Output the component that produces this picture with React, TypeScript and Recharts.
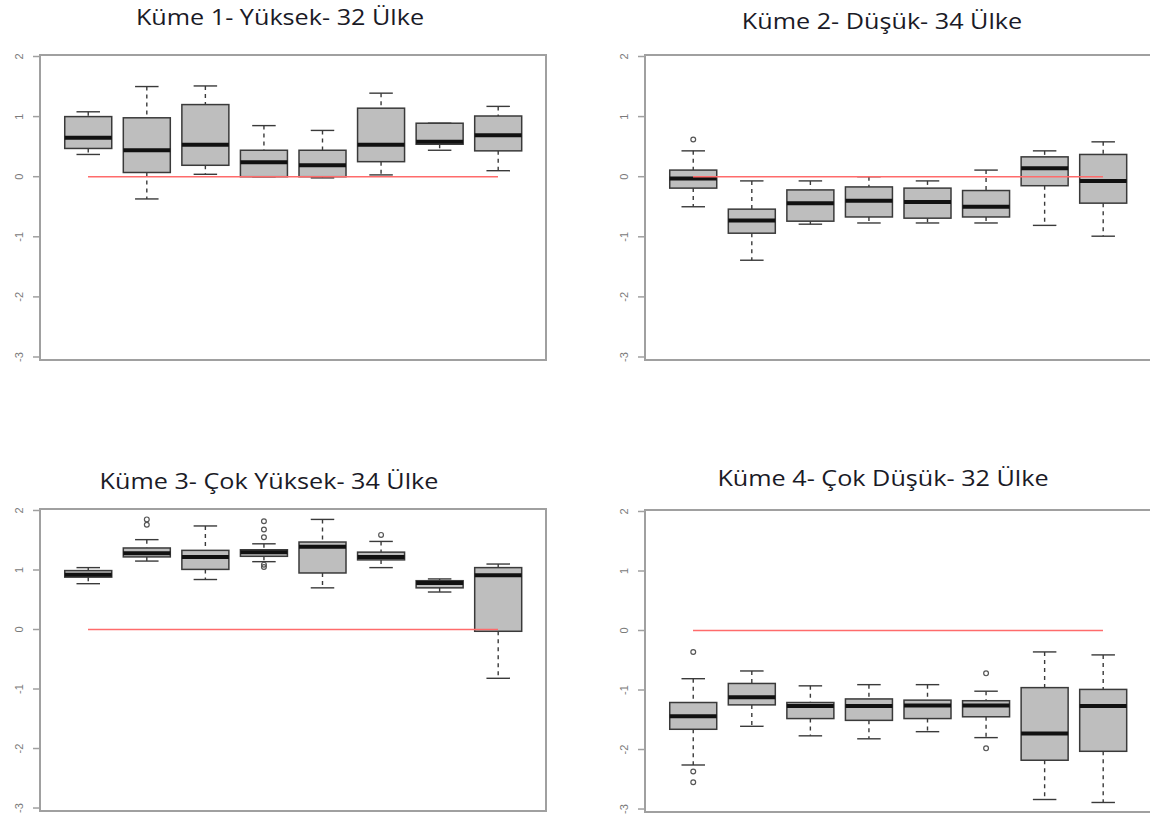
import React from "react";
import { ComposedChart, Bar, XAxis, YAxis, ReferenceLine, ReferenceArea } from "recharts";

// box positions and y ticks shared by all four panels
const positions = [1, 2, 3, 4, 5, 6, 7, 8];
const yTicks = [-3, -2, -1, 0, 1, 2];

const titles = [
  "Küme 1- Yüksek- 32 Ülke",
  "Küme 2- Düşük- 34 Ülke",
  "Küme 3- Çok Yüksek- 34 Ülke",
  "Küme 4- Çok Düşük- 32 Ülke",
];

// each row: [lower whisker, Q1, median, Q3, upper whisker]
const kume1 = [
  [0.37, 0.47, 0.65, 1.0, 1.08],
  [-0.37, 0.07, 0.44, 0.98, 1.5],
  [0.04, 0.19, 0.53, 1.2, 1.51],
  [0.0, 0.0, 0.24, 0.44, 0.85],
  [-0.02, 0.0, 0.19, 0.44, 0.77],
  [0.03, 0.25, 0.53, 1.14, 1.39],
  [0.44, 0.54, 0.58, 0.89, 0.89],
  [0.1, 0.43, 0.69, 1.01, 1.17],
];
const kume1Outliers = [[], [], [], [], [], [], [], []];

const kume2 = [
  [-0.5, -0.19, -0.03, 0.11, 0.43],
  [-1.39, -0.94, -0.73, -0.54, -0.07],
  [-0.79, -0.74, -0.44, -0.22, -0.07],
  [-0.77, -0.67, -0.4, -0.17, 0.0],
  [-0.77, -0.69, -0.42, -0.19, -0.07],
  [-0.77, -0.67, -0.5, -0.23, 0.11],
  [-0.81, -0.15, 0.14, 0.33, 0.43],
  [-0.99, -0.44, -0.07, 0.37, 0.58],
];
const kume2Outliers = [[0.62], [], [], [], [], [], [], []];

const kume3 = [
  [0.77, 0.88, 0.92, 0.99, 1.04],
  [1.15, 1.22, 1.28, 1.37, 1.51],
  [0.84, 1.01, 1.22, 1.33, 1.74],
  [1.14, 1.23, 1.3, 1.34, 1.44],
  [0.7, 0.95, 1.39, 1.47, 1.85],
  [1.04, 1.17, 1.22, 1.3, 1.48],
  [0.63, 0.7, 0.78, 0.82, 0.85],
  [-0.82, -0.03, 0.91, 1.04, 1.1],
];
const kume3Outliers = [[], [1.85, 1.76], [], [1.82, 1.68, 1.55, 1.09, 1.05], [], [1.59], [], []];

const kume4 = [
  [-2.26, -1.66, -1.44, -1.21, -0.81],
  [-1.61, -1.25, -1.12, -0.89, -0.68],
  [-1.77, -1.48, -1.27, -1.21, -0.93],
  [-1.82, -1.51, -1.27, -1.15, -0.91],
  [-1.7, -1.48, -1.26, -1.17, -0.91],
  [-1.8, -1.45, -1.26, -1.18, -1.02],
  [-2.84, -2.18, -1.73, -0.96, -0.36],
  [-2.89, -2.03, -1.27, -0.99, -0.41],
];
const kume4Outliers = [[-0.36, -2.37, -2.55], [], [], [], [], [-0.72, -1.98], [], []];

const makeRows = (stats: number[][], outs: number[][]) =>
  positions.map((pos, i) => ({
    pos,
    min: stats[i][0],
    q1: stats[i][1],
    med: stats[i][2],
    q3: stats[i][3],
    max: stats[i][4],
    outliers: outs[i],
  }));

const AXIS = "#a0a0a0";
const EDGE = "#3a3a3a";

// draws the whole box plot inside the range bar (min..max)
function BoxShape(props: any) {
  const { x, y, width, height, payload } = props;
  const top = Math.min(y, y + height);
  const h = Math.abs(height);
  const span = payload.max - payload.min;
  const py = (v: number) => top + ((payload.max - v) / span) * h;
  const cx = x + width / 2;
  const cap = width / 4;
  const yQ1 = py(payload.q1);
  const yQ3 = py(payload.q3);
  return (
    <g>
      <line x1={cx} x2={cx} y1={py(payload.max)} y2={yQ3} stroke={EDGE} strokeWidth={1.4} strokeDasharray="4 4" />
      <line x1={cx} x2={cx} y1={yQ1} y2={py(payload.min)} stroke={EDGE} strokeWidth={1.4} strokeDasharray="4 4" />
      <line x1={cx - cap} x2={cx + cap} y1={py(payload.max)} y2={py(payload.max)} stroke={EDGE} strokeWidth={1.4} />
      <line x1={cx - cap} x2={cx + cap} y1={py(payload.min)} y2={py(payload.min)} stroke={EDGE} strokeWidth={1.4} />
      <rect x={x} y={yQ3} width={width} height={Math.max(yQ1 - yQ3, 0.5)} fill="#bebebe" stroke={EDGE} strokeWidth={1.5} />
      <line x1={x} x2={x + width} y1={py(payload.med)} y2={py(payload.med)} stroke="#111" strokeWidth={4} />
      {payload.outliers.map((o: number, k: number) => (
        <circle key={k} cx={cx} cy={py(o)} r={2.4} fill="none" stroke="#555" strokeWidth={1.2} />
      ))}
    </g>
  );
}

const YTick = (p: any) => (
  <text
    x={p.x}
    y={p.y}
    transform={`rotate(-90 ${p.x} ${p.y})`}
    textAnchor="middle"
    fontSize={11}
    fill="#7a7a7a"
    fontFamily="'Liberation Sans', Arial, sans-serif"
  >
    {p.payload.value}
  </text>
);

const X_DOMAIN: [number, number] = [0.18, 8.82];
const Y_DOMAIN: [number, number] = [-3.05, 2.025];

function Panel({ left, top, height, rows }: { left: number; top: number; height: number; rows: any[] }) {
  return (
    <div style={{ position: "absolute", left, top }}>
      <ComposedChart width={560} height={height} data={rows} margin={{ top: 55, right: 14, bottom: 0, left: 0 }}>
        <XAxis
          dataKey="pos"
          type="number"
          domain={X_DOMAIN}
          ticks={positions}
          allowDataOverflow
          axisLine={false}
          tick={false}
          tickSize={8}
          tickLine={{ stroke: AXIS, strokeWidth: 1.5 }}
          height={20}
        />
        <YAxis
          type="number"
          domain={Y_DOMAIN}
          ticks={yTicks}
          allowDataOverflow
          width={40}
          axisLine={false}
          tickSize={7}
          tickMargin={10}
          tickLine={{ stroke: AXIS, strokeWidth: 1.5 }}
          tick={<YTick />}
        />
        <ReferenceArea
          x1={X_DOMAIN[0]}
          x2={X_DOMAIN[1]}
          y1={Y_DOMAIN[0]}
          y2={Y_DOMAIN[1]}
          fill="none"
          fillOpacity={0}
          stroke={AXIS}
          strokeWidth={2}
        />
        <Bar dataKey={(d: any) => [d.min, d.max]} barSize={47} shape={<BoxShape />} isAnimationActive={false} />
        <ReferenceLine
          segment={[
            { x: 1, y: 0 },
            { x: 8, y: 0 },
          ]}
          stroke="#ff6b6b"
          strokeWidth={1.6}
        />
      </ComposedChart>
    </div>
  );
}

// titles look slightly stretched sideways in the source image
const Title = ({ x, y, text }: { x: number; y: number; text: string }) => (
  <text transform={`translate(${x} ${y}) scale(1.12 1)`} textAnchor="middle">
    {text}
  </text>
);

export default function App() {
  return (
    <div style={{ position: "absolute", left: 0, top: 0, width: 1150, height: 823, overflow: "hidden", background: "#fff" }}>
      <Panel left={0} top={0} height={380} rows={makeRows(kume1, kume1Outliers)} />
      <Panel left={605} top={0} height={380} rows={makeRows(kume2, kume2Outliers)} />
      <Panel left={0} top={454} height={377} rows={makeRows(kume3, kume3Outliers)} />
      <Panel left={605} top={455} height={377} rows={makeRows(kume4, kume4Outliers)} />
      <svg width={1150} height={823} style={{ position: "absolute", left: 0, top: 0, pointerEvents: "none" }}>
        <g fontFamily="'Open Sans', sans-serif" fontSize={22.5} fill="#1a1a26">
          <Title x={280} y={25} text={titles[0]} />
          <Title x={882} y={29} text={titles[1]} />
          <Title x={269} y={489} text={titles[2]} />
          <Title x={883} y={486} text={titles[3]} />
        </g>
      </svg>
    </div>
  );
}
